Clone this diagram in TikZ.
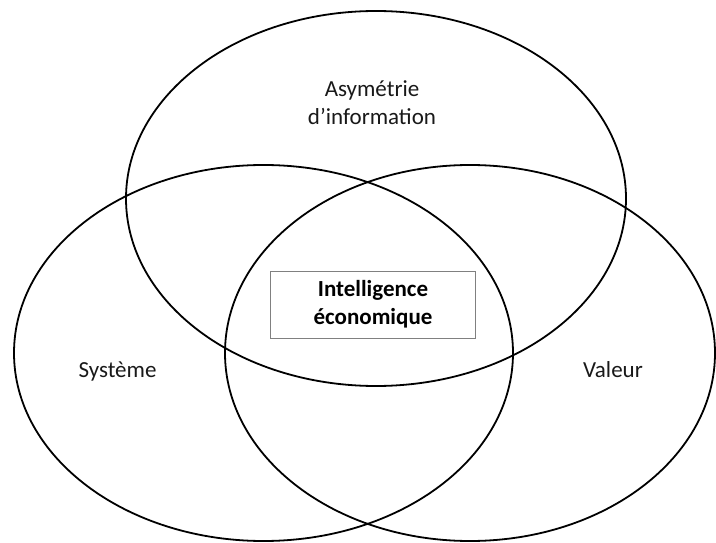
\documentclass[tikz,border=0pt]{standalone}
\usepackage{fontspec}
\setmainfont{Carlito}
\begin{document}
\begin{tikzpicture}[x=1pt,y=-1pt,
  ring/.style={draw=black,line width=1.8pt},
  lbl/.style={font=\fontsize{23}{28}\selectfont,align=center,text=black!90,inner sep=0pt},
  core/.style={draw=black!50,line width=0.8pt,font=\bfseries\fontsize{23}{28}\selectfont,align=center,minimum width=205pt,minimum height=67pt,inner sep=0pt}]
\useasboundingbox (0,0) rectangle (716,543);
\draw[ring] (376,198.5) ellipse [x radius=250, y radius=187.5];
\draw[ring] (263.5,353) ellipse [x radius=249.5, y radius=188];
\draw[ring] (470,353) ellipse [x radius=245, y radius=188];
\node[lbl] (asym) at (372,103) {Asymétrie\\d’information};
\node[lbl,anchor=base] (sys) at (117.5,377) {Système};
\node[lbl,anchor=base] (val) at (613,377) {Valeur};
\node[core] (ie) at (373,304.5) {Intelligence\\économique};
\end{tikzpicture}
\end{document}
